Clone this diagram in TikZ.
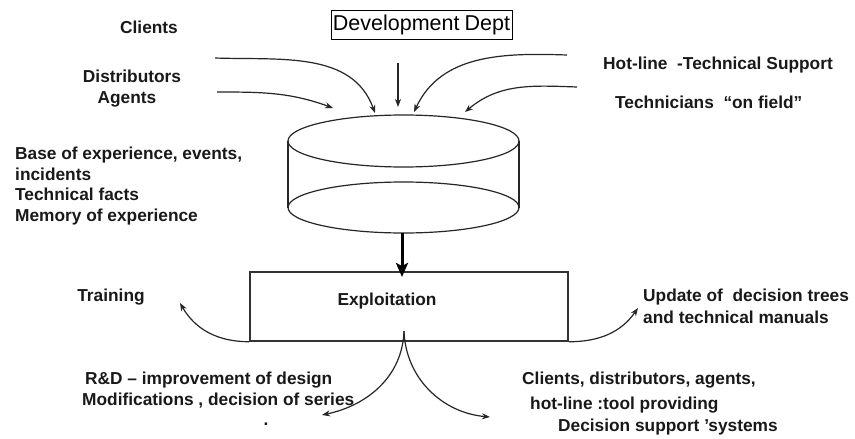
\documentclass[tikz,border=0pt]{standalone}
\usepackage{fontspec}
\setmainfont{Liberation Sans}
\usetikzlibrary{arrows.meta}
\begin{document}
\begin{tikzpicture}[x=1pt,y=-1pt,
  lbl/.style={font=\fontsize{17.3}{21}\selectfont\bfseries, inner sep=0pt, text=black!90},
  conn/.style={line width=1.2pt, black!85, -{Stealth[length=8pt,width=6pt,inset=2.5pt]}},
  cyl/.style={line width=1.2pt, black!85},
  bigarrow/.style={line width=3pt, -{Stealth[length=14pt,width=12pt,inset=3pt]}},
  box/.style={draw=black!80, line width=1.5pt, minimum width=318pt, minimum height=69pt, inner sep=0pt}
]
\useasboundingbox[fill=white] (0,0) rectangle (855,439);

% top labels
\node[lbl] (clients) at (149,27) {Clients};
\node[lbl, align=center, font=\fontsize{17.3}{22}\selectfont\bfseries] (dist) at (132,89) {Distributors\\[-1pt]\hspace*{-10pt}Agents};
\node[draw=black, line width=1pt, minimum width=181pt, minimum height=29pt, inner sep=0pt,
      font=\fontsize{21.5}{24}\selectfont] (dev) at (421.5,24.5) {Development\hspace{-1pt} Dept};
\node[lbl, anchor=west] (hot) at (603,65) {Hot-line\ \ -Technical\hspace{5pt}Support};
\node[lbl, anchor=west] (tech) at (615,102) {Technicians\ \ “on field”};

% base of experience
\node[lbl, anchor=west, align=left, font=\fontsize{17.3}{20.7}\selectfont\bfseries] (base) at (15,186)
  {Base of experience, events,\\incidents\\Technical facts\\Memory of experience};

% cylinder
\draw[cyl] (403.5,141) ellipse [x radius=115.5pt, y radius=26pt];
\draw[cyl] (403.5,207.5) ellipse [x radius=115.5pt, y radius=25.5pt];
\draw[cyl] (288,141) -- (288,207.5);
\draw[cyl] (519,141) -- (519,207.5);
\coordinate (cylbot) at (402,233);

% exploitation box
\node[box] (ex) at (409,306.5) {};
\node[lbl] (exlbl) at (387,301) {Exploitation};

% bottom labels
\node[lbl] (train) at (111,297) {Training};
\node[lbl, anchor=west, align=left, font=\fontsize{17.3}{22}\selectfont\bfseries] (upd) at (643,306)
  {Update of\ \ decision trees\\and technical\ manuals};
\node[lbl, anchor=west] (rd1) at (85,380) {R\&D -- improvement of design};
\node[lbl, anchor=west] (rd2) at (82,401) {Modifications , decision of series};
\node[lbl] (dot) at (266,424) {.};
\node[lbl, anchor=west] (cl1) at (522,380) {Clients, distributors, agents,};
\node[lbl, anchor=west] (cl2) at (530,405) {hot-line :tool providing};
\node[lbl, anchor=west] (cl3) at (558,427) {Decision support ’systems};

% connector coordinates
\coordinate (s1) at (215,58);   \coordinate (e1) at (375,113);
\coordinate (s2) at (217,92);   \coordinate (e2) at (333,108);
\coordinate (s3) at (398,63);   \coordinate (e3) at (398,107);
\coordinate (s4) at (567,55);   \coordinate (e4) at (414,112);
\coordinate (s5) at (577,87);   \coordinate (e5) at (465,112);
\coordinate (bs) at (404,331);
\coordinate (tr) at (180,303);
\coordinate (up) at (638,308);
\coordinate (rd) at (322,415);
\coordinate (cl) at (490,417);
\coordinate (exin) at (402,277);

% top arrows
\draw[conn] (s1) to[out=-2, in=110] (e1);
\draw[conn] (s2) to[out=0, in=160] (e2);
\draw[conn] (s3) -- (e3);
\draw[conn] (s4) to[out=178, in=65] (e4);
\draw[conn] (s5) to[out=178, in=40] (e5);

% cylinder to box
\draw[bigarrow] (cylbot) -- (exin);

% outputs
\draw[conn] (ex.south west) to[out=180, in=-60] (tr);
\draw[conn] (ex.south east) to[out=0, in=-125] (up);
\draw[conn] (bs) to[out=-92, in=12] (rd);
\draw[conn] (bs) to[out=-88, in=175] (cl);
\end{tikzpicture}
\end{document}
